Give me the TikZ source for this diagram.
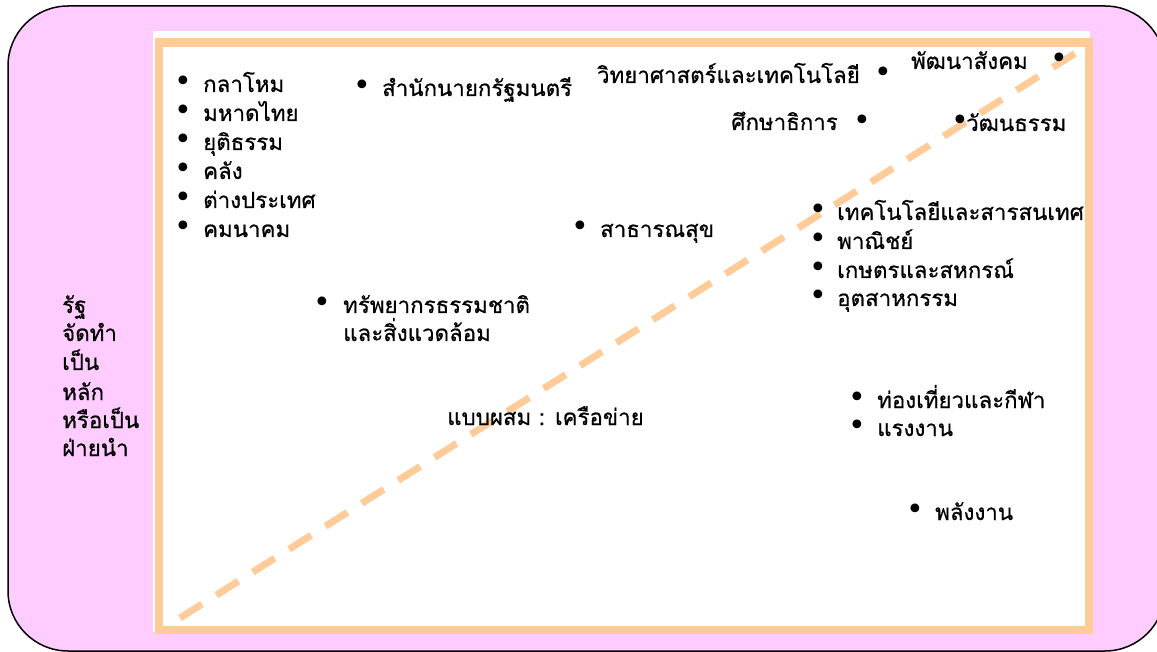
\documentclass[tikz,border=0pt]{standalone}
\usepackage{fontspec}
\newfontfamily\thai[Script=Thai,FakeBold=0.6]{Loma}
\newfontfamily\bulfont{DejaVu Sans}
\definecolor{pinkbg}{HTML}{FFCCFF}
\definecolor{peach}{HTML}{FFCC99}
\begin{document}
\begin{tikzpicture}[x=1pt,y=-1pt,
  txt/.style={inner sep=0pt, anchor=base west, font=\thai\fontsize{22.3}{26}\selectfont},
  txtr/.style={txt, anchor=base east},
  dot/.style={inner sep=0pt, anchor=center, font=\bulfont\fontsize{30}{30}\selectfont}]
\useasboundingbox (0,0) rectangle (1157,652);
\draw[fill=pinkbg, line width=1.5pt, rounded corners=60pt] (8,6) rectangle (1165,651);
\fill[white] (153,31) rectangle (1090,632);
\draw[peach, line width=8.5pt] (159,42.5) rectangle (1089,630);
\coordinate (ds) at (180,618);
\coordinate (de) at (1085,47);
\draw[peach, line width=7pt, dash pattern=on 26pt off 17pt] (ds) -- (de);
% left list
\node[dot] (b1) at (183,84) {•};  \node[txt] (t1) at (203,92) {กลาโหม};
\node[dot] (b2) at (183,113) {•}; \node[txt] (t2) at (203,121) {มหาดไทย};
\node[dot] (b3) at (183,142) {•}; \node[txt] (t3) at (203,150) {ยุติธรรม};
\node[dot] (b4) at (183,171) {•}; \node[txt] (t4) at (203,179) {คลัง};
\node[dot] (b5) at (183,200) {•}; \node[txt] (t5) at (203,208) {ต่างประเทศ};
\node[dot] (b6) at (183,229) {•}; \node[txt] (t6) at (203,237) {คมนาคม};
% top
\node[dot] (b7) at (362,88) {•};  \node[txt] (t7) at (382,96) {สำนักนายกรัฐมนตรี};
\node[txtr] (t8) at (860,83) {วิทยาศาสตร์และเทคโนโลยี}; \node[dot] (b8) at (883,75) {•};
\node[txtr] (t9) at (1028,69) {พัฒนาสังคม}; \node[dot] (b9) at (1059,61) {•};
\node[txtr] (t10) at (838,130) {ศึกษาธิการ}; \node[dot] (b10) at (862,123) {•};
\node[dot] (b11) at (960,123) {•}; \node[txt] (t11) at (966,131) {วัฒนธรรม};
\node[dot] (b12) at (580,229) {•}; \node[txt] (t12) at (600,237) {สาธารณสุข};
% right list
\node[dot] (b13) at (818,212) {•}; \node[txt] (t13) at (837,220) {เทคโนโลยีและสารสนเทศ};
\node[dot] (b14) at (818,241) {•}; \node[txt] (t14) at (837,249) {พาณิชย์};
\node[dot] (b15) at (818,270) {•}; \node[txt] (t15) at (837,278) {เกษตรและสหกรณ์};
\node[dot] (b16) at (818,298) {•}; \node[txt] (t16) at (837,306) {อุตสาหกรรม};
% resources
\node[dot] (b17) at (322,305) {•}; \node[txt] (t17) at (343,313) {ทรัพยากรธรรมชาติ};
\node[txt] (t18) at (343,341) {และสิ่งแวดล้อม};
% centre
\node[txt] (t19) at (447,425) {แบบผสม : เครือข่าย};
% lower right
\node[dot] (b20) at (857,400) {•}; \node[txt] (t20) at (877,408) {ท่องเที่ยวและกีฬา};
\node[dot] (b21) at (857,428) {•}; \node[txt] (t21) at (877,436) {แรงงาน};
\node[dot] (b22) at (915,512) {•}; \node[txt] (t22) at (935,520) {พลังงาน};
% left label
\node[txt] (l1) at (62,313) {รัฐ};
\node[txt] (l2) at (62,341) {จัดทำ};
\node[txt] (l3) at (62,370) {เป็น};
\node[txt] (l4) at (62,400) {หลัก};
\node[txt] (l5) at (62,428) {หรือเป็น};
\node[txt] (l6) at (62,456) {ฝ่ายนำ};
\end{tikzpicture}
\end{document}
